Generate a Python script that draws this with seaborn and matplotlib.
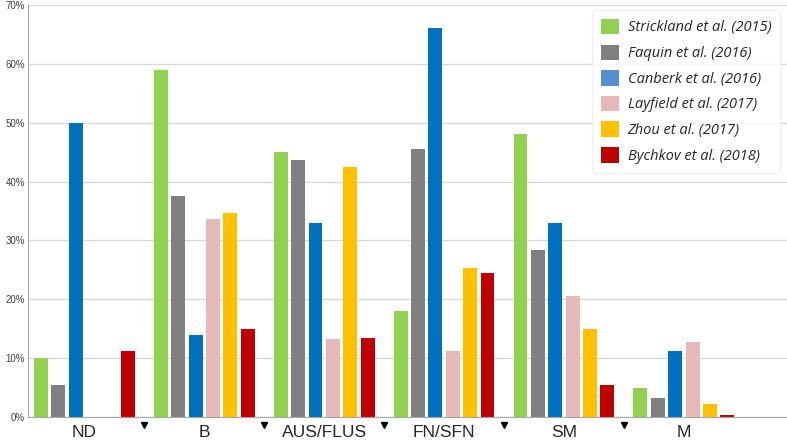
import matplotlib
matplotlib.use("Agg")
import matplotlib.pyplot as plt
import matplotlib.transforms as mtransforms
import numpy as np
import pandas as pd
import seaborn as sns

# Categories and studies
categories = ["ND", "B", "AUS/FLUS", "FN/SFN", "SM", "M"]
studies = ["Strickland et al. (2015)", "Faquin et al. (2016)", "Canberk et al. (2016)",
	"Layfield et al. (2017)", "Zhou et al. (2017)", "Bychkov et al. (2018)"]

# Percentages per study, in category order
strickland = [10.0, 59.0, 45.0, 18.0, 48.0, 5.0]
faquin = [5.5, 37.6, 43.6, 45.5, 28.3, 3.2]
canberk = [50.0, 14.0, 33.0, 66.0, 33.0, 11.2]
layfield = [0.0, 33.7, 13.2, 11.3, 20.6, 12.8]
zhou = [0.0, 34.6, 42.5, 25.4, 15.0, 2.2]
bychkov = [11.3, 15.0, 13.5, 24.4, 5.5, 0.4]

colors = ["#92D050", "#808080", "#0070C0", "#E6B9B8", "#FFC000", "#C00000"]
legend_colors = ["#92D050", "#808080", "#558ED5", "#E6B9B8", "#FFC000", "#C00000"]

values = [strickland, faquin, canberk, layfield, zhou, bychkov]
rows = []
for study, vals in zip(studies, values):
	for cat, v in zip(categories, vals):
		rows.append({ "category": cat, "study": study, "pct": v })
df = pd.DataFrame(rows)

sns.set_style("white")
plt.rcParams["font.family"] = ["Liberation Sans", "DejaVu Sans"]

fig = plt.figure(figsize = (7.87, 4.4), dpi = 100)
ax = fig.add_axes([0.0356, 0.052, 0.9644, 0.937])

sns.barplot(data = df, x = "category", y = "pct", hue = "study", order = categories,
	hue_order = studies, palette = colors, width = 0.87, gap = 0.2, saturation = 1,
	edgecolor = "none", ax = ax)

ax.set_xlim(-0.47, 5.86)
ax.set_ylim(0, 70)
ax.set_yticks(np.arange(0, 71, 10))
ax.set_yticklabels(["%d%%" % v for v in range(0, 71, 10)], fontsize = 7, color = "#404040")
ax.set_xlabel("")
ax.set_ylabel("")
ax.tick_params(axis = "x", length = 0, pad = 6, labelsize = 12.5)
ax.tick_params(axis = "y", length = 0, pad = 2)
ax.yaxis.grid(True, color = "#D9D9D9", linewidth = 1)
ax.set_axisbelow(True)
for side in ["top", "right"]:
	ax.spines[side].set_visible(False)
ax.spines["left"].set_color("#A6A6A6")
ax.spines["bottom"].set_color("#A6A6A6")

# Separator triangles between category groups
trans = mtransforms.blended_transform_factory(ax.transData, ax.transAxes)
bounds = np.arange(len(categories) - 1) + 0.5
ax.plot(bounds, [-0.02] * len(bounds), "v", color = "black", markersize = 5,
	transform = trans, clip_on = False)

leg = ax.legend(loc = "upper right", bbox_to_anchor = (0.991, 0.977), bbox_transform = fig.transFigure,
	borderaxespad = 0, frameon = True, fancybox = True,
	prop = { "family": "Open Sans", "style": "italic", "size": 10.5 },
	handlelength = 1.25, handleheight = 1.25, labelspacing = 0.62, borderpad = 0.6, handletextpad = 0.6)
leg.get_frame().set_edgecolor("#EEEEEE")
for h, c in zip(leg.legend_handles, legend_colors):
	h.set_facecolor(c)

plt.savefig("out.png", dpi = 100)
plt.close()
